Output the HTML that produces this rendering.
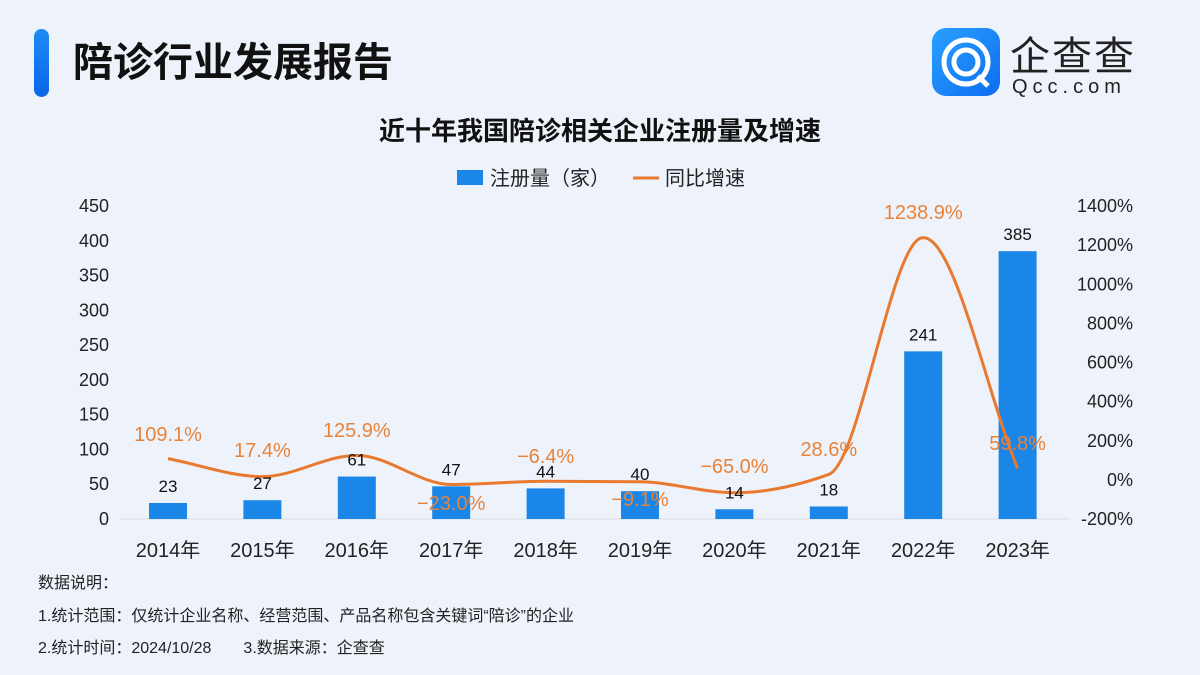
<!DOCTYPE html>
<html><head><meta charset="utf-8"><style>
body{margin:0;width:1200px;height:675px;overflow:hidden;background:#eef3fb;font-family:"Liberation Sans","Noto Sans CJK SC",sans-serif;}
</style></head><body>
<svg width="1200" height="675" xmlns="http://www.w3.org/2000/svg" style="position:absolute;left:0;top:0">
<defs><linearGradient id="g" x1="0" y1="0" x2="0" y2="1"><stop offset="0" stop-color="#1e8cf5"/><stop offset="1" stop-color="#0a66e8"/></linearGradient>
<linearGradient id="lg" x1="0" y1="0" x2="1" y2="1"><stop offset="0" stop-color="#2aa0ff"/><stop offset="1" stop-color="#0d6ef0"/></linearGradient></defs>
<rect x="34" y="29" width="15" height="68" rx="7.5" fill="url(#g)"/>
<text x="73" y="76" font-size="40" font-weight="bold" fill="#111" font-family="Liberation Sans,Noto Sans CJK SC,sans-serif">陪诊行业发展报告</text>
<rect x="932" y="28" width="68" height="68" rx="14" fill="url(#lg)"/>
<circle cx="966" cy="62" r="22" fill="none" stroke="#fff" stroke-width="5"/>
<circle cx="966" cy="62" r="12" fill="none" stroke="#fff" stroke-width="5"/>
<line x1="978" y1="76" x2="988" y2="86" stroke="#fff" stroke-width="5"/>
<text x="1010" y="70" font-size="40" fill="#222" font-family="Noto Sans CJK SC,sans-serif" letter-spacing="2">企查查</text>
<text x="1012" y="93" font-size="20" fill="#222" letter-spacing="5">Qcc.com</text>
<text x="600" y="140" text-anchor="middle" font-size="26" font-weight="bold" fill="#111" font-family="Liberation Sans,Noto Sans CJK SC,sans-serif">近十年我国陪诊相关企业注册量及增速</text>
<rect x="457" y="170" width="26" height="15" fill="#1a86e8"/>
<text x="490" y="185" font-size="20" fill="#222">注册量（家）</text>
<line x1="633" y1="178" x2="659" y2="178" stroke="#e8792e" stroke-width="3"/>
<text x="665" y="185" font-size="20" fill="#222">同比增速</text>
<g font-size="18" fill="#222" text-anchor="end" id="ly"></g>
<g font-size="18" fill="#222" text-anchor="end" id="ry"></g>
<line x1="120" y1="519" x2="1070" y2="519" stroke="#d5dbe5" stroke-width="1"/>
<g id="bars"></g>
<path id="ln" fill="none" stroke="#e8792e" stroke-width="3"/>
<g id="lbl"></g>
<text x="38" y="588" font-size="16" fill="#222">数据说明：</text>
<text x="38" y="621" font-size="16" fill="#222">1.统计范围：仅统计企业名称、经营范围、产品名称包含关键词“陪诊”的企业</text>
<text x="38" y="653" font-size="16" fill="#222">2.统计时间：2024/10/28　　3.数据来源：企查查</text>
</svg>
<script>
var NS="http://www.w3.org/2000/svg";
function t(g,x,y,s,a){var e=document.createElementNS(NS,"text");e.setAttribute("x",x);e.setAttribute("y",y);for(var k in a)e.setAttribute(k,a[k]);e.textContent=s;document.getElementById(g).appendChild(e);return e;}
for(var i=0;i<=9;i++){var y=519-i*313/9;t("ly",109,y+6,String(i*50),{});}
for(var i=0;i<=8;i++){var y=519-i*313/8;t("ry",1133,y+6,(-200+i*200)+"%",{});}
var v=[23,27,61,47,44,40,14,18,241,385],p=[109.1,17.4,125.9,-23.0,-6.4,-9.1,-65.0,28.6,1238.9,59.8];
var pl=[434,450,430,503,456,499,466,449,212,443];
var pts=[];
for(var i=0;i<10;i++){var x=168+i*94.4,by=519-v[i]*0.6956;
var r=document.createElementNS(NS,"rect");r.setAttribute("x",x-19);r.setAttribute("y",by);r.setAttribute("width",38);r.setAttribute("height",519-by);r.setAttribute("fill","#1a86e8");document.getElementById("bars").appendChild(r);
t("lbl",x,by-11,String(v[i]),{"text-anchor":"middle","font-size":"17","fill":"#111"});
t("lbl",x,pl[i]+7,(p[i]<0?"−"+(-p[i]).toFixed(1):p[i].toFixed(1))+"%",{"text-anchor":"middle","font-size":"20","fill":"#e8833a"});
t("lbl",x,557,(2014+i)+"年",{"text-anchor":"middle","font-size":"20","fill":"#222"});
pts.push([x,480-p[i]*0.1956]);}
// monotone cubic
var n=pts.length,dx=94.4,s=[],m=[];
for(var i=0;i<n-1;i++)s.push((pts[i+1][1]-pts[i][1])/dx);
m[0]=s[0];m[n-1]=s[n-2];
for(var i=1;i<n-1;i++){if(s[i-1]*s[i]<=0)m[i]=0;else m[i]=2/(1/s[i-1]+1/s[i]);}
var d="M"+pts[0][0]+","+pts[0][1];
for(var i=0;i<n-1;i++){var h=dx/3;
d+=" C"+(pts[i][0]+h)+","+(pts[i][1]+m[i]*h)+" "+(pts[i+1][0]-h)+","+(pts[i+1][1]-m[i+1]*h)+" "+pts[i+1][0]+","+pts[i+1][1];}
document.getElementById("ln").setAttribute("d",d);
</script>
</body></html>
